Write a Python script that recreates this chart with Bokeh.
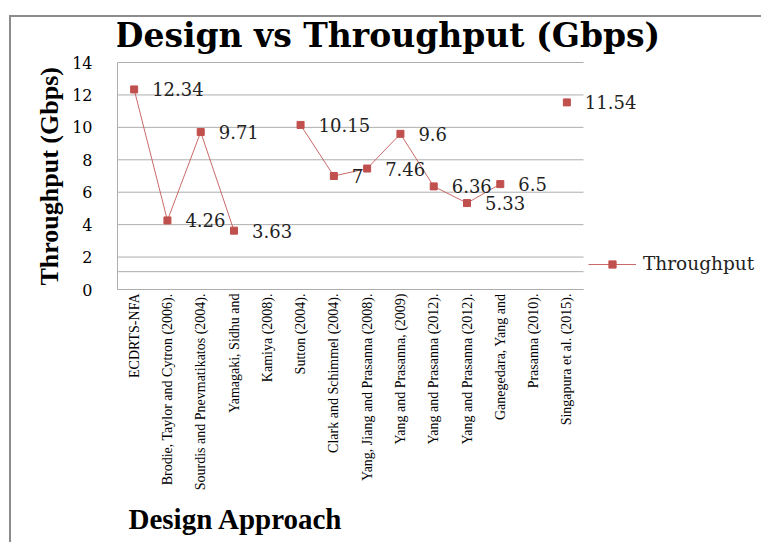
import math
from bokeh.plotting import figure
from bokeh.models import (Range1d, FixedTicker, ColumnDataSource, LabelSet, Label, Title,
                          Legend, Div)
from bokeh.layouts import column, row
from bokeh.core.properties import value
from bokeh.embed import file_html
from bokeh.resources import INLINE

categories = [
    "ECDRTS-NFA",
    "Brodie, Taylor and Cytron (2006).",
    "Sourdis and Pnevmatikatos (2004).",
    "Yamagaki, Sidhu and",
    "Kamiya (2008).",
    "Sutton (2004).",
    "Clark and Schimmel (2004).",
    "Yang, Jiang and Prasanna (2008).",
    "Yang and Prasanna, (2009)",
    "Yang and Prasanna (2012).",
    "Yang and Prasanna (2012).",
    "Ganegedara, Yang and",
    "Prasanna (2010).",
    "Singapura et al. (2015).",
]
throughput = [12.34, 4.26, 9.71, 3.63, None, 10.15, 7, 7.46, 9.6, 6.36, 5.33, 6.5, None, 11.54]
y_ticks = [0, 2, 4, 6, 8, 10, 12, 14]
title_text = "Design vs Throughput (Gbps)"
x_title = "Design Approach"
y_title = "Throughput (Gbps)"
series_name = "Throughput"

RED = "#C0504D"
GRID = "#ADADAD"
BORDER = "#8C8C8C"
W, H = 750, 525
FL, FB = 106, 272       # frame left / bottom (figure px); frame top is the figure top
TOP14 = 45              # pixel row of the 14 gridline
AX_RIGHT = 572          # where the category axis ends (figure px)

n = len(categories)
xs = list(range(1, n + 1))
ys = [float("nan") if v is None else v for v in throughput]
px_per_cat = (AX_RIGHT - FL) / n
px_per_unit = (FB - TOP14) / y_ticks[-1]
x_end = 0.5 + (W - FL) / px_per_cat
y_end = FB / px_per_unit

def px_x(px):
    return 0.5 + (px - FL) / px_per_cat

def px_y(py):
    return (FB - py) / px_per_unit

p = figure(width=W, height=H, output_backend="svg", toolbar_location=None, title=None,
           x_range=Range1d(0.5, x_end), y_range=Range1d(0, y_end),
           min_border_left=FL, min_border_right=0, min_border_top=0,
           min_border_bottom=H - FB, margin=0)
p.outline_line_color = None
p.background_fill_color = "white"
p.border_fill_color = "white"
p.xgrid.grid_line_color = None
p.ygrid.grid_line_color = None

# axes
p.xaxis.bounds = (0.5, n + 0.5)
p.xaxis.ticker = FixedTicker(ticks=xs)
p.xaxis.major_label_overrides = {i: c for i, c in zip(xs, categories)}
p.xaxis.major_label_orientation = math.pi / 2
p.xaxis.major_label_text_font = "Liberation Serif"
p.xaxis.major_label_text_font_size = "14px"
p.xaxis.major_label_text_color = "black"
p.xaxis.major_label_standoff = 4
p.xaxis.major_tick_out = 0
p.xaxis.major_tick_in = 0
p.xaxis.minor_tick_line_color = None
p.xaxis.axis_line_color = GRID

p.yaxis.bounds = (0, y_ticks[-1])
p.yaxis.ticker = FixedTicker(ticks=y_ticks)
p.yaxis.major_label_text_font = "DejaVu Serif"
p.yaxis.major_label_text_font_size = "16px"
p.yaxis.major_label_text_color = "black"
p.yaxis.major_label_standoff = 25
p.yaxis.major_tick_out = 0
p.yaxis.major_tick_in = 0
p.yaxis.minor_tick_line_color = None
p.yaxis.axis_line_color = GRID

# y axis title, starting at the bottom of the value axis
p.add_layout(Title(text=y_title, align="left", offset=4, vertical_align="bottom",
                   standoff=12, text_font="Liberation Serif", text_font_style="bold",
                   text_font_size="26px", text_color="black"), "left")

# horizontal gridlines, limited to the category span
p.segment(x0=0.5, x1=n + 0.5, y0=y_ticks, y1=y_ticks, line_color=GRID, line_width=1)
p.segment(x0=[0.5], x1=[n + 0.5], y0=[1.1], y1=[1.1], line_color=GRID, line_width=1)

# series
src = ColumnDataSource(dict(x=xs, y=ys))
line_r = p.line("x", "y", source=src, line_color=RED, line_width=1, line_alpha=0.85)
pts_r = p.scatter("x", "y", source=src, marker="square", size=7,
                  fill_color=RED, line_color=RED)

# data labels
lx = [x for x, v in zip(xs, throughput) if v is not None]
lv = [v for v in throughput if v is not None]
lab_src = ColumnDataSource(dict(x=lx, y=lv, t=[f"{v:g}" for v in lv]))
p.add_layout(LabelSet(x="x", y="y", text="t", source=lab_src, x_offset=18,
                      text_align="left", text_baseline="middle",
                      text_font=value("DejaVu Serif"), text_font_size=value("18px"),
                      text_color="#222222"))

# chart title
p.add_layout(Label(x=px_x(376), y=px_y(18), text=title_text, text_align="center",
                   text_baseline="alphabetic", text_font="DejaVu Serif",
                   text_font_style="bold", text_font_size="33px", text_color="black"))

# x axis title
p.add_layout(Title(text=x_title, align="left", offset=11, standoff=14,
                   text_font="Liberation Serif", text_font_style="bold",
                   text_font_size="29px", text_color="black"), "below")

# legend
legend = Legend(items=[(series_name, [line_r, pts_r])], location=(471, 15),
                glyph_width=48, glyph_height=18, label_standoff=7,
                label_text_font="DejaVu Serif", label_text_font_size="18.5px",
                label_text_color="#222222", padding=0, margin=0, spacing=0,
                border_line_color=None, background_fill_alpha=0)
p.add_layout(legend)

# outer chart border (left and top edges)
gap = Div(width=10, height=15, margin=0)
lpad = Div(width=9, height=H + 2, margin=0)
vline = Div(width=2, height=H + 2, margin=0, styles={"background-color": BORDER})
hline = Div(width=W, height=2, margin=0, styles={"background-color": BORDER})
layout = column(gap, row(lpad, vline, column(hline, p, spacing=0, margin=0),
                         spacing=0, margin=0),
                spacing=0, margin=0)

open("out.html", "w").write(file_html(layout, INLINE))
